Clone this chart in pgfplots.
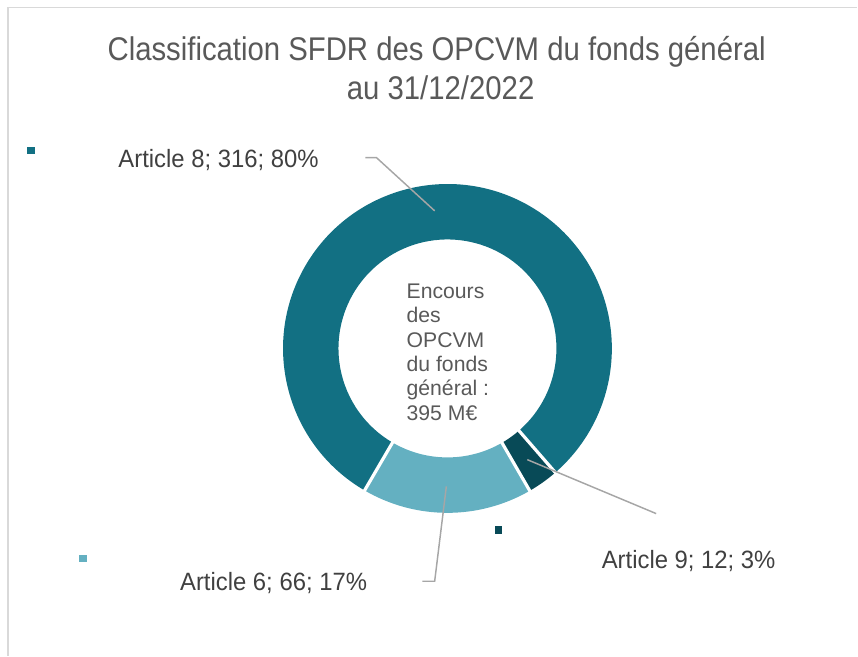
\documentclass[border=0pt]{standalone}
\usepackage{pgfplots}
\pgfplotsset{compat=1.18}
\usepackage{pgfplotstable}
\usepackage{fontspec}
\setmainfont{Liberation Sans}

\definecolor{art8}{HTML}{127083}
\definecolor{art6}{HTML}{64B0C1}
\definecolor{art9}{HTML}{084A57}
\definecolor{lead}{HTML}{A6A6A6}
\definecolor{framegray}{HTML}{D9D9D9}
\definecolor{titlegray}{HTML}{595959}
\definecolor{labelgray}{HTML}{404040}

% encours (M EUR) par classification SFDR, dans l'ordre du trace (sens horaire)
\pgfplotstableread{
slice value
9 12
6 66
8 316
}\slices

\begin{document}
\begin{tikzpicture}
\pgfplotstablegetelem{0}{value}\of\slices \edef\vnine{\pgfplotsretval}
\pgfplotstablegetelem{1}{value}\of\slices \edef\vsix{\pgfplotsretval}
\pgfplotstablegetelem{2}{value}\of\slices \edef\veight{\pgfplotsretval}
\pgfmathsetmacro\tot{\vnine+\vsix+\veight}
\pgfmathsetmacro\aA{-49}
\pgfmathsetmacro\aB{\aA-\vnine/\tot*360}
\pgfmathsetmacro\aC{\aB-\vsix/\tot*360}
\pgfmathsetmacro\aD{\aC-\veight/\tot*360}
\def\Ro{123.4pt}
\def\Ri{81.8pt}
\begin{axis}[
    scale only axis,
    width=643.5pt, height=492pt,
    xmin=0, xmax=858, ymin=0, ymax=656,
    y dir=reverse,
    hide axis,
    clip=false
]
\path (axis cs:0,0) rectangle (axis cs:858,656);
\draw[framegray, line width=1pt] (axis cs:8,656) -- (axis cs:8,7.5) -- (axis cs:858,7.5);

% anneau
\begin{scope}[shift={(axis cs:447.8,348.7)}]
  \fill[art9] (\aA:\Ro) arc[start angle=\aA, end angle=\aB, radius=\Ro]
    -- (\aB:\Ri) arc[start angle=\aB, end angle=\aA, radius=\Ri] -- cycle;
  \fill[art6] (\aB:\Ro) arc[start angle=\aB, end angle=\aC, radius=\Ro]
    -- (\aC:\Ri) arc[start angle=\aC, end angle=\aB, radius=\Ri] -- cycle;
  \fill[art8] (\aC:\Ro) arc[start angle=\aC, end angle=\aD, radius=\Ro]
    -- (\aD:\Ri) arc[start angle=\aD, end angle=\aC, radius=\Ri] -- cycle;
  \draw[white, line width=2.4pt] (\aA:80pt) -- (\aA:125pt);
  \draw[white, line width=2.4pt] (\aB:80pt) -- (\aB:125pt);
  \draw[white, line width=2.4pt] (\aC:80pt) -- (\aC:125pt);
\end{scope}

% lignes de rappel
\draw[lead, line width=1.1pt] (axis cs:365.7,157.7) -- (axis cs:376.7,157.7) -- (axis cs:435,211);
\draw[lead, line width=1.1pt] (axis cs:422.7,581.7) -- (axis cs:435,581.7) -- (axis cs:446.7,486.7);
\draw[lead, line width=1.1pt] (axis cs:527.7,460) -- (axis cs:656.7,514);

% reperes de legende
\fill[art8] (axis cs:27,146.7) rectangle (axis cs:35,154.3);
\fill[art6] (axis cs:79,555) rectangle (axis cs:86.7,562.7);
\fill[art9] (axis cs:495,526.7) rectangle (axis cs:502.7,534.3);

% etiquettes
\begin{scope}[every node/.style={anchor=base west, inner sep=0pt, text=labelgray,
    font=\fontsize{17.9}{21}\selectfont}]
  \node at (axis cs:118.3,167.3) {\scalebox{1}[1.05]{Article 8; 316; 80\%}};
  \node at (axis cs:180,591) {\scalebox{1}[1.05]{Article 6; 66; 17\%}};
  \node at (axis cs:602,569.4) {\scalebox{1}[1.05]{Article 9; 12; 3\%}};
\end{scope}

% texte central
\begin{scope}[every node/.style={anchor=base west, inner sep=0pt, text=titlegray,
    font=\fontsize{15.9}{18}\selectfont}]
  \node at (axis cs:406.7,298.5) {Encours};
  \node at (axis cs:406.7,322.9) {des};
  \node at (axis cs:406.7,347.3) {OPCVM};
  \node at (axis cs:406.7,371.7) {du fonds};
  \node at (axis cs:406.7,396.1) {général :};
  \node at (axis cs:406.7,420.5) {395 M€};
\end{scope}

% titre
\begin{scope}[every node/.style={anchor=base, inner sep=0pt, text=titlegray,
    font=\fontsize{22}{26}\selectfont}]
  \node at (axis cs:437,61) {\scalebox{1}[1.12]{Classification SFDR des OPCVM du fonds général}};
  \node at (axis cs:441,100) {\scalebox{1}[1.12]{au 31/12/2022}};
\end{scope}
\end{axis}
\end{tikzpicture}
\end{document}
